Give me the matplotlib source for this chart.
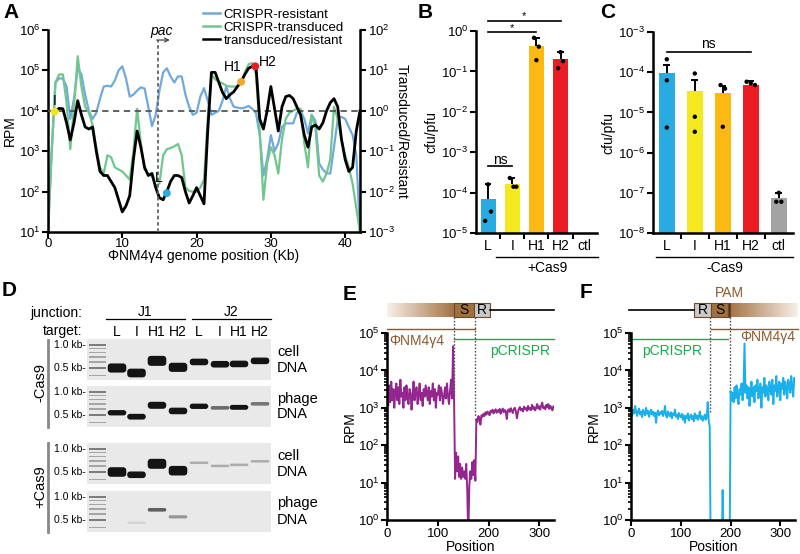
import matplotlib
matplotlib.use('Agg')
import matplotlib.pyplot as plt
import matplotlib.transforms as mtransforms
import numpy as np
from matplotlib.patches import Rectangle, FancyBboxPatch
from matplotlib.lines import Line2D
from matplotlib.ticker import LogLocator, NullLocator, NullFormatter

plt.rcParams['font.family'] = ['Liberation Sans', 'DejaVu Sans']
plt.rcParams['font.size'] = 9.5
plt.rcParams['mathtext.default'] = 'regular'
plt.rcParams['axes.linewidth'] = 1.8

# ---------------- data ----------------
# panel A: log10 RPM every 0.5 kb (0..42)
kb = np.arange(0, 42.01, 0.5)
resistant_log = [1.0, 3.0, 4.7, 4.8, 4.8, 4.6, 3.8, 4.3, 5.05, 4.9,
                 4.4, 4.0, 3.8, 3.95, 4.3, 4.6, 4.62, 4.6, 4.75, 5.0,
                 5.1, 4.8, 4.35, 4.4, 4.5, 4.58, 4.55, 4.1, 3.62, 3.9,
                 4.5, 4.95, 5.05, 4.85, 4.7, 4.85, 4.85, 4.4, 4.1, 3.9,
                 3.95, 4.35, 4.56, 4.25, 3.9, 3.95, 4.0, 4.25, 4.6, 4.3,
                 4.1, 4.08, 4.06, 4.08, 4.12, 4.05, 3.94, 3.4, 2.4, 2.8,
                 3.4, 3.0, 3.2, 3.6, 3.69, 3.69, 3.69, 3.95, 4.0, 3.8,
                 3.44, 3.9, 3.75, 2.7, 2.55, 2.45, 2.45, 3.1, 3.8, 3.85,
                 3.8, 3.6, 3.4, 2.9, 1.0]
transduced_log = [1.0, 3.0, 4.7, 4.9, 4.9, 4.2, 3.05, 4.1, 5.35, 4.6,
                  4.1, 3.95, 3.65, 3.1, 2.6, 2.45, 2.9, 2.85, 2.6, 2.55,
                  2.5, 2.4, 2.3, 3.0, 4.05, 3.2, 2.55, 2.45, 2.38, 2.15,
                  2.2, 2.9, 3.05, 3.08, 3.12, 3.18, 2.9, 2.1, 2.02, 2.0,
                  2.0, 2.1, 2.3, 3.8, 4.9, 4.78, 4.72, 4.68, 4.62, 4.6,
                  4.6, 4.6, 4.7, 4.95, 5.15, 5.18, 4.9, 3.5, 1.8, 2.7,
                  3.1, 2.9, 2.45, 3.3, 3.8, 3.95, 4.0, 4.05, 4.05, 3.2,
                  2.6, 3.9, 3.6, 2.4, 2.25, 2.45, 2.8, 4.1, 3.8, 3.3,
                  2.9, 2.6, 2.2, 1.6, 1.0]
# transduced/resistant, log10, every 0.5 kb (1..42)
ratio_kb = np.arange(1, 42.01, 0.5)
ratio_log = [0.0, 0.06, 0.05, -0.3, -0.72, -0.3, 0.25, -0.1, -0.4, -0.45,
             -0.4, -1.0, -1.5, -1.6, -1.6, -1.75, -1.9, -2.2, -2.5, -2.35,
             -2.1, -1.2, -0.5, -0.9, -1.4, -1.6, -1.55, -1.9, -2.15, -2.2,
             -2.0, -1.75, -1.6, -1.6, -1.65, -2.0, -2.28, -2.1, -1.9, -2.1,
             -2.3, -0.5, 0.95, 0.95, 0.7, 0.45, 0.3, 0.4, 0.47, 0.6,
             0.72, 0.9, 1.05, 1.1, 1.1, -0.2, -0.45, 0.0, 0.6, 0.05,
             -0.5, 0.1, 0.35, 0.38, 0.3, 0.1, -0.1, -0.6, -0.9, -0.4,
             -0.35, -0.45, -0.3, 0.0, 0.2, 0.3, 0.1, -0.7, -1.2, -1.5,
             -1.4, -0.5, 0.0]
target_names = ['I', 'L', 'H1', 'H2']
target_kb = [0.9, 16.0, 26.0, 27.9]
target_ratio = [0.95, 0.0092, 5.2, 12.6]

# panels B / C: cfu/pfu
cats = ['L', 'I', 'H1', 'H2', 'ctl']
cat_colors = ['#29abe2', '#f4e81f', '#fdb813', '#ec1c24', '#a3a3a3']
b_mean = [6.9e-5, 1.6e-4, 0.43, 0.20, np.nan]
b_upper = [1.6e-4, 2.3e-4, 0.68, 0.30, np.nan]
b_points = [[1.6e-4, 3.4e-5, 2.0e-5], [2.3e-4, 1.4e-4, 1.4e-4],
            [0.68, 0.41, 0.19], [0.30, 0.18, 0.12], []]
b_jitter = [[0.0, 0.12, -0.12], [-0.1, 0.05, 0.17],
            [-0.1, 0.1, 0.0], [0.0, 0.1, -0.1], []]
c_mean = [9.8e-5, 3.4e-5, 3.1e-5, 4.9e-5, 7.4e-8]
c_upper = [1.55e-4, 6.3e-5, 4.6e-5, 6.0e-5, 1.0e-7]
c_points = [[2.1e-4, 6.3e-5, 4.2e-6], [9.3e-5, 7.8e-6, 3.3e-6],
            [4.8e-5, 3.9e-5, 4.4e-6], [5.8e-5, 5.3e-5, 4.8e-5],
            [1.0e-7, 6.0e-8, 6.0e-8]]
c_jitter = [[0.0, 0.0, 0.0], [0.0, 0.0, 0.0], [-0.08, 0.08, 0.0],
            [-0.15, 0.0, 0.15], [0.0, -0.09, 0.09]]

# panel D: gel bands (size in kb, amount 0..1) for J1 L I H1 H2, J2 L I H1 H2
ladder_kb = [1.0, 0.9, 0.8, 0.7, 0.6, 0.5, 0.4]
gel_size = [[0.50, 0.43, 0.62, 0.51, 0.60, 0.56, 0.565, 0.62],
            [0.535, 0.475, 0.67, 0.565, 0.65, 0.62, 0.63, 0.70],
            [0.50, 0.46, 0.64, 0.52, 0.66, 0.60, 0.62, 0.69],
            [0.50, 0.46, 0.68, 0.55, 0.60, 0.60, 0.60, 0.60]]
gel_amount = [[0.9, 0.85, 1.0, 0.9, 0.6, 0.6, 0.6, 0.6],
              [0.45, 0.5, 0.65, 0.6, 0.45, 0.25, 0.4, 0.25],
              [0.95, 0.6, 1.0, 0.95, 0.12, 0.12, 0.12, 0.12],
              [0.0, 0.08, 0.25, 0.2, 0.0, 0.0, 0.0, 0.0]]
gel_tone = [[1, 1, 1, 1, 1, 1, 1, 1],
            [1, 1, 1, 1, 1, 0.6, 1, 0.55],
            [1, 1, 1, 1, 0.3, 0.3, 0.3, 0.3],
            [0, 0.12, 0.65, 0.4, 0, 0, 0, 0]]

# panels E / F: log10 RPM, every 2 positions (0..330)
pos = np.arange(0, 331, 2)
spacer_rpm_log = [3.30, 3.05, 3.60, 3.15, 3.70, 3.20, 3.50, 3.00, 3.45, 3.65,
                  3.20, 3.55, 3.10, 3.75, 3.30, 3.40, 3.00, 3.55, 3.20, 3.60,
                  3.30, 3.10, 3.50, 3.40, 2.95, 3.30, 3.70, 3.20, 3.45, 3.55,
                  3.10, 3.35, 3.65, 3.20, 3.40, 3.05, 3.50, 3.30, 3.60, 3.40,
                  3.20, 3.55, 3.10, 3.45, 3.30, 3.65, 3.20, 3.50, 3.00, 3.40,
                  3.35, 3.60, 3.20, 3.55, 3.40, 3.10, 3.30, 3.55, 3.25, 3.65,
                  3.30, 3.10, 3.45, 3.75, 3.25, 4.65, 3.20, 1.10, 1.80, 1.30,
                  1.70, 1.15, 1.50, 1.10, 1.40, 1.15, 1.30, 1.10, 1.50, 0.80,
                  -0.50, 0.90, 1.30, 1.10, 1.55, 1.20, 1.60, 1.05, 2.70, 2.62,
                  2.78, 2.72, 2.55, 2.80, 2.76, 2.84, 2.78, 2.88, 2.82, 2.90,
                  2.86, 2.80, 2.92, 2.88, 2.95, 2.85, 2.90, 2.96, 2.87, 2.93,
                  2.89, 2.97, 2.84, 2.92, 2.98, 2.88, 2.94, 2.90, 2.70, 2.93,
                  2.96, 2.89, 2.99, 2.92, 2.86, 2.97, 3.00, 2.91, 2.72, 2.88,
                  2.98, 3.02, 2.93, 2.97, 2.90, 3.03, 2.96, 2.99, 2.92, 3.05,
                  2.95, 3.00, 2.94, 3.08, 2.97, 3.02, 2.93, 3.00, 3.10, 2.98,
                  3.04, 2.95, 3.06, 3.14, 2.99, 3.03, 2.96, 3.08, 3.02, 3.10,
                  2.97, 3.05, 3.00, 2.93, 3.04, 3.01]
repeat_rpm_log = [2.90, 2.80, 2.95, 2.85, 3.05, 2.88, 2.78, 2.92, 2.98, 2.82,
                  2.90, 2.75, 2.95, 2.86, 2.80, 3.00, 2.84, 2.92, 2.76, 2.88,
                  2.95, 2.82, 2.90, 2.78, 2.87, 2.60, 2.85, 2.93, 2.80, 2.88,
                  2.84, 2.92, 2.78, 2.86, 3.05, 2.80, 2.74, 2.90, 2.83, 2.77,
                  2.88, 2.72, 2.85, 2.80, 2.95, 2.76, 2.82, 2.70, 2.86, 2.78,
                  2.75, 2.84, 2.68, 2.80, 2.60, 2.78, 2.72, 2.85, 2.66, 2.76,
                  2.82, 2.70, 2.78, 2.64, 2.85, 2.72, 2.80, 2.68, 2.76, 2.90,
                  2.70, 2.78, 2.65, 2.74, 2.82, 2.68, 2.75, 3.15, 2.65, 2.50,
                  -1, -1, -1, -1, -1, -1, -1, -1, -1, -1,
                  -1, -1, 0.80, -1, -1, -1, -1, -1, -1, -1,
                  3.45, 3.20, 3.40, 3.15, 3.55, 3.25, 3.60, 3.30, 3.10, 3.50,
                  3.35, 3.65, 3.20, 3.45, 4.72, 3.40, 3.60, 3.25, 3.55, 3.05,
                  3.40, 3.70, 3.30, 3.55, 3.15, 3.60, 3.45, 3.75, 3.25, 3.50,
                  3.65, 3.00, 3.55, 3.40, 3.80, 3.30, 3.60, 3.45, 3.20, 3.70,
                  3.50, 3.35, 3.75, 3.10, 3.60, 3.45, 3.85, 3.30, 3.55, 3.70,
                  3.20, 3.65, 3.50, 3.80, 3.35, 3.70, 3.55, 3.25, 3.75, 3.60,
                  3.40, 3.85, 3.55, 3.30, 3.80, 3.65]

c_res, c_tra = '#72a9dd', '#70c68d'
brown, green = '#8c5a2e', '#1fa84f'

fig = plt.figure(figsize=(8, 5.54), dpi=100)
ov = fig.add_axes([0, 0, 1, 1])
ov.set_xlim(0, 800)
ov.set_ylim(554, 0)
ov.axis('off')


def style(ax):
    ax.tick_params(width=1.5, length=4, labelsize=9.5, pad=1.5)
    ax.tick_params(which='minor', width=1.2, length=2.5)


# ---------------- A ----------------
axA = fig.add_axes([0.06, 0.581, 0.39, 0.365])
axA.plot(kb, 10 ** np.array(resistant_log), color=c_res, lw=1.6)
axA.plot(kb, 10 ** np.array(transduced_log), color=c_tra, lw=1.6)
axA.set_yscale('log')
axA.set_ylim(10, 1e6)
axA.set_xlim(0, 42)
axA.set_xticks([0, 10, 20, 30, 40])
axA.yaxis.set_minor_locator(NullLocator())
axA.spines[['top', 'right']].set_visible(False)
axA.set_ylabel('RPM', fontsize=10, labelpad=1)
style(axA)
axA.tick_params(axis='x', pad=0.5)
axA.set_xlabel('ΦNM4γ4 genome position (Kb)', fontsize=10, labelpad=-1)

axR = axA.twinx()
axR.plot(ratio_kb, 10 ** np.array(ratio_log), color='k', lw=2)
axR.set_yscale('log')
axR.set_ylim(1e-3, 1e2)
axR.yaxis.set_minor_locator(NullLocator())
axR.spines[['top', 'left', 'bottom']].set_visible(False)
axR.set_ylabel('Transduced/Resistant', rotation=270, fontsize=10, labelpad=10)
style(axR)
axR.axhline(1, color='#555555', lw=1.3, ls=(0, (3.5, 2.5)), zorder=1)
axR.plot([14.8, 14.8], [1e-3, 10 ** 1.75], color='#666666', lw=1.3,
         ls=(0, (2, 1.5)), clip_on=False)
axR.annotate('', xy=(16.4, 10 ** 1.75), xytext=(14.65, 10 ** 1.75),
             arrowprops=dict(arrowstyle='->', lw=0.9, color='#444444',
                             shrinkA=0, shrinkB=0, mutation_scale=7),
             annotation_clip=False)
axR.text(15.3, 10 ** 1.97, 'pac', style='italic', ha='center', va='center',
         fontsize=10)
dot_colors = ['#f2e41a', '#29abe2', '#f9a825', '#ec1c24']
axR.scatter(target_kb, target_ratio, c=dot_colors, s=32, zorder=6,
            edgecolors='none', clip_on=False)
lab_xy = [(0.9, 10 ** 0.25), (14.9, 10 ** -1.66), (24.8, 10 ** 1.08),
          (29.6, 10 ** 1.2)]
for name, (lx, ly) in zip(target_names, lab_xy):
    axR.text(lx, ly, name, ha='center', va='center', fontsize=10)

handles = [Line2D([], [], color=c_res, lw=1.8),
           Line2D([], [], color=c_tra, lw=1.8),
           Line2D([], [], color='k', lw=1.8)]
axA.legend(handles, ['CRISPR-resistant', 'CRISPR-transduced',
                     'transduced/resistant'],
           loc='upper left', bbox_to_anchor=(0.254, 0.984),
           bbox_transform=fig.transFigure, frameon=False, fontsize=9.5,
           handlelength=1.3, handletextpad=0.25, labelspacing=0.05,
           borderpad=0, borderaxespad=0)


# ---------------- B / C ----------------
def bar_panel(ax, means, uppers, points, jitter, width):
    x = np.arange(len(cats))
    for i in range(len(cats)):
        if np.isnan(means[i]):
            continue
        ax.bar(x[i], means[i], width=width, color=cat_colors[i], zorder=1)
        ax.vlines(x[i], means[i], uppers[i], color='k', lw=1.4, zorder=2)
        ax.hlines(uppers[i], x[i] - 0.13, x[i] + 0.13, color='k', lw=1.4,
                  zorder=2)
        ax.scatter(x[i] + np.array(jitter[i]), points[i], s=10, color='k',
                   zorder=3, edgecolors='none')
    ax.set_yscale('log')
    ax.set_xlim(-0.5, len(cats) - 0.5)
    ax.set_xticks(x)
    ax.set_xticklabels(cats, fontsize=10)
    ax.set_xticks(x[:-1] + 0.5, minor=True)
    ax.tick_params(axis='x', which='major', length=0, pad=4)
    ax.tick_params(axis='x', which='minor', length=4, width=1.5)
    ax.yaxis.set_minor_locator(NullLocator())
    ax.spines[['top', 'right']].set_visible(False)
    ax.set_ylabel('cfu/pfu', fontsize=10, labelpad=2)


axB = fig.add_axes([0.595, 0.5794, 0.151, 0.3646])
style(axB)
bar_panel(axB, b_mean, b_upper, b_points, b_jitter, 0.62)
axB.set_ylim(1e-5, 1)
axB.set_yticks([1e-5, 1e-4, 1e-3, 1e-2, 1e-1, 1])
axB.plot([0, 1], [4.6e-4, 4.6e-4], color='k', lw=1.2, clip_on=False)
axB.text(0.5, 10 ** -3.2, 'ns', ha='center', va='center', fontsize=10)
axB.plot([0, 2], [10 ** -0.02, 10 ** -0.02], color='k', lw=1.2, clip_on=False)
axB.plot([0, 3], [10 ** 0.25, 10 ** 0.25], color='k', lw=1.2, clip_on=False)
axB.text(1.0, 10 ** 0.08, '*', ha='center', va='center', fontsize=8)
axB.text(1.5, 10 ** 0.36, '*', ha='center', va='center', fontsize=8)

axC = fig.add_axes([0.816, 0.5794, 0.175, 0.3628])
style(axC)
bar_panel(axC, c_mean, c_upper, c_points, c_jitter, 0.57)
axC.set_ylim(1e-8, 1e-3)
axC.set_yticks([1e-8, 1e-7, 1e-6, 1e-5, 1e-4, 1e-3])
axC.plot([0, 3], [10 ** -3.5, 10 ** -3.5], color='k', lw=1.2)
axC.text(1.5, 10 ** -3.3, 'ns', ha='center', va='center', fontsize=10)

ov.plot([496, 598], [257, 257], color='k', lw=1)
ov.text(547, 268, '+Cas9', ha='center', va='center', fontsize=10)
ov.plot([656, 793], [257, 257], color='k', lw=1)
ov.text(725, 268, '-Cas9', ha='center', va='center', fontsize=10)


# ---------------- D (gel) ----------------
gel_tops = [339, 386, 443, 491]
lane_x = [117, 136.5, 157, 178, 199, 220, 239, 260]


def kb_to_y(top, size):
    return top + 6 - 76.4 * np.log10(size)


for p, top in enumerate(gel_tops):
    ov.add_patch(Rectangle((87, top), 184, 41, facecolor='#e9e9e9',
                           edgecolor='none'))
    for s in ladder_kb:
        shade = '#7d7d7d' if s in (0.5, 1.0) else '#a5a5a5'
        ov.add_patch(Rectangle((89, kb_to_y(top, s) - 0.9), 17, 1.8,
                               facecolor=shade, edgecolor='none'))
    for j, lx in enumerate(lane_x):
        amt = gel_amount[p][j]
        if amt <= 0:
            continue
        h = 1.5 + 8.5 * amt
        grey = (0.08 + 0.85 * (1 - gel_tone[p][j]),) * 3
        yc = kb_to_y(top, gel_size[p][j])
        ov.add_patch(FancyBboxPatch((lx - 9.3, yc - h / 2), 18.6, h,
                                    boxstyle='round,pad=0,rounding_size=%.1f'
                                    % min(h / 2, 3.5),
                                    facecolor=grey, edgecolor='none'))
    ov.text(86, top + 6, '1.0 kb-', ha='right', va='center', fontsize=7.5)
    ov.text(86, top + 29, '0.5 kb-', ha='right', va='center', fontsize=7.5)
    ov.text(277, top + 12.5, 'cell' if p % 2 == 0 else 'phage', ha='left',
            va='center', fontsize=10.5)
    ov.text(277, top + 28.5, 'DNA', ha='left', va='center', fontsize=10.5)

ov.text(82, 313, 'junction:', ha='right', va='center', fontsize=10)
ov.text(82, 331, 'target:', ha='right', va='center', fontsize=10)
ov.plot([106, 185], [319, 319], color='k', lw=0.9)
ov.plot([192, 271], [319, 319], color='k', lw=0.9)
ov.text(145, 312, 'J1', ha='center', va='center', fontsize=10)
ov.text(231, 312, 'J2', ha='center', va='center', fontsize=10)
for lx, t in zip(lane_x, ['L', 'I', 'H1', 'H2'] * 2):
    ov.text(lx, 332, t, ha='center', va='center', fontsize=10)
ov.plot([48, 48], [340, 427], color='#888888', lw=2)
ov.text(40, 383, '-Cas9', rotation=90, ha='center', va='center', fontsize=10.5)
ov.plot([48, 48], [443, 532], color='#888888', lw=2)
ov.text(40, 487, '+Cas9', rotation=90, ha='center', va='center', fontsize=10.5)


# ---------------- E / F ----------------
def cov_panel(ax, vals, color):
    ax.plot(pos, 10 ** np.array(vals), color=color, lw=1.4)
    ax.set_yscale('log')
    ax.set_ylim(1, 1e5)
    ax.set_xlim(0, 330)
    ax.set_xticks([0, 100, 200, 300])
    ax.yaxis.set_major_locator(LogLocator(base=10, numticks=10))
    ax.yaxis.set_minor_locator(LogLocator(base=10, subs=np.arange(2, 10),
                                          numticks=10))
    ax.yaxis.set_minor_formatter(NullFormatter())
    ax.spines[['top', 'right']].set_visible(False)
    ax.set_xlabel('Position', fontsize=10, labelpad=0)
    ax.set_ylabel('RPM', fontsize=10, labelpad=1)
    style(ax)


def gradient(ax, tr, x0, x1, y0, y1, fade_left=True):
    n = 60
    light = np.array([0.97, 0.94, 0.91])
    dark = np.array([0.64, 0.45, 0.27])
    edges = np.linspace(x0, x1, n + 1)
    for k in range(n):
        f = (k + 0.5) / n
        f = f if fade_left else 1 - f
        col = light + (dark - light) * f
        ax.add_patch(Rectangle((edges[k], y0), edges[k + 1] - edges[k] + 0.3,
                               y1 - y0, transform=tr, facecolor=col,
                               edgecolor='none', clip_on=False))


def box(ax, tr, x0, x1, label, fc):
    ax.add_patch(Rectangle((x0, 1.086), x1 - x0, 0.074, transform=tr,
                           facecolor=fc, edgecolor='#6b4a2b', lw=0.8,
                           clip_on=False))
    if label:
        ax.text((x0 + x1) / 2, 1.123, label, transform=tr, ha='center',
                va='center', fontsize=10)


axE = fig.add_axes([0.484, 0.0614, 0.209, 0.3375])
cov_panel(axE, spacer_rpm_log, '#93278f')
trE = mtransforms.blended_transform_factory(axE.transData, axE.transAxes)
gradient(axE, trE, 0, 131, 1.086, 1.16, fade_left=True)
box(axE, trE, 131, 172, 'S', '#a0703f')
box(axE, trE, 172, 203, 'R', '#c9c9c9')
axE.plot([203, 330], [1.123, 1.123], transform=trE, color='k', lw=1.2,
         clip_on=False)
axE.plot([0, 174], [1.021, 1.021], transform=trE, color=brown, lw=1,
         clip_on=False)
axE.plot([131, 330], [0.968, 0.968], transform=trE, color=green, lw=1,
         clip_on=False)
axE.text(5, 0.957, 'ΦNM4γ4', transform=trE, color=brown, ha='left',
         va='center', fontsize=10)
axE.text(322, 0.904, 'pCRISPR', transform=trE, color=green, ha='right',
         va='center', fontsize=10)
axE.plot([131, 131], [1.086, 0.66], transform=trE, color='#555555', lw=1,
         ls=(0, (1.2, 1.2)), clip_on=False)
axE.plot([174, 174], [1.086, 0.55], transform=trE, color='#555555', lw=1,
         ls=(0, (1.2, 1.2)), clip_on=False)

axF = fig.add_axes([0.789, 0.0614, 0.205, 0.3375])
cov_panel(axF, repeat_rpm_log, '#1ab0ec')
trF = mtransforms.blended_transform_factory(axF.transData, axF.transAxes)
axF.plot([-4, 127], [1.123, 1.123], transform=trF, color='k', lw=1.2,
         clip_on=False)
box(axF, trF, 127, 161, 'R', '#c9c9c9')
box(axF, trF, 161, 195, 'S', '#a0703f')
gradient(axF, trF, 198, 336, 1.086, 1.16, fade_left=False)
box(axF, trF, 195, 199, '', '#4a2a10')
axF.text(197, 1.214, 'PAM', transform=trF, color=brown, ha='center',
         va='center', fontsize=10)
axF.plot([161, 336], [1.021, 1.021], transform=trF, color=brown, lw=1,
         clip_on=False)
axF.plot([0, 194], [0.968, 0.968], transform=trF, color=green, lw=1,
         clip_on=False)
axF.text(331, 0.979, 'ΦNM4γ4', transform=trF, color=brown, ha='right',
         va='center', fontsize=10)
axF.text(22, 0.905, 'pCRISPR', transform=trF, color=green, ha='left',
         va='center', fontsize=10)
axF.plot([158, 158], [1.086, 0.58], transform=trF, color='#555555', lw=1,
         ls=(0, (1.2, 1.2)), clip_on=False)
axF.plot([199, 199], [1.086, 0.70], transform=trF, color='#555555', lw=1,
         ls=(0, (1.2, 1.2)), clip_on=False)

# panel letters
for letter, lx, ly in [('A', 3, 12), ('B', 418, 12), ('C', 600, 12),
                       ('D', 2, 290), ('E', 343, 295), ('F', 580, 292)]:
    ov.text(lx, ly, letter, fontsize=15, fontweight='bold', ha='left',
            va='center')

fig.savefig('out.png', dpi=100)
